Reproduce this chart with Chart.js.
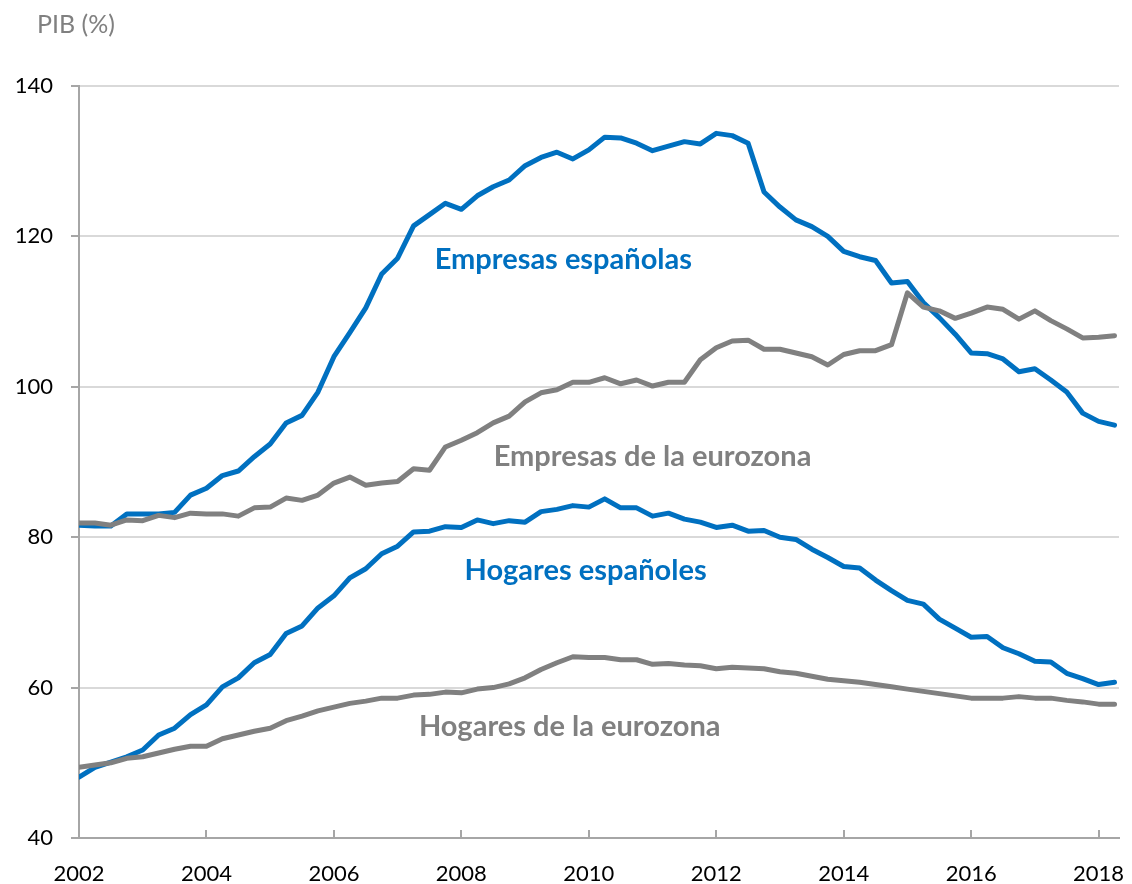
<!DOCTYPE html>
<html>
<head>
<meta charset="utf-8">
<script src="https://cdn.jsdelivr.net/npm/chart.js@4"></script>
<style>
  body { margin: 0; background: #fff; }
  #wrap { width: 1132px; height: 884px; }
</style>
</head>
<body>
<div id="wrap"><canvas id="deuda" width="1132" height="884"></canvas></div>
<script>
// trimestres 2002-T1 .. 2018-T2
const quarters = [];
for (let y = 2002; y <= 2018; y++) {
  for (let q = 1; q <= 4; q++) {
    if (quarters.length < 66) quarters.push(y + "-T" + q);
  }
}

const empresasEs = [
  81.6, 81.5, 81.5, 83.1, 83.1, 83.1, 83.3, 85.6, 86.5, 88.2,
  88.8, 90.7, 92.4, 95.2, 96.2, 99.3, 104.0, 107.2, 110.5, 115.0,
  117.1, 121.4, 122.9, 124.4, 123.6, 125.4, 126.6, 127.5, 129.4, 130.5,
  131.2, 130.3, 131.5, 133.2, 133.1, 132.4, 131.4, 132.0, 132.6, 132.3,
  133.7, 133.4, 132.4, 125.9, 123.9, 122.2, 121.3, 120.0, 118.0, 117.3,
  116.8, 113.8, 114.0, 111.2, 109.2, 107.0, 104.5, 104.4, 103.7, 102.0,
  102.4, 100.9, 99.3, 96.5, 95.4, 94.9
];
const empresasEuro = [
  81.9, 81.9, 81.6, 82.3, 82.2, 82.9, 82.6, 83.2, 83.1, 83.1,
  82.8, 83.9, 84.0, 85.2, 84.9, 85.6, 87.2, 88.0, 86.9, 87.2,
  87.4, 89.1, 88.9, 92.0, 92.9, 93.9, 95.2, 96.1, 98.0, 99.2,
  99.6, 100.6, 100.6, 101.2, 100.4, 100.9, 100.1, 100.6, 100.6, 103.6,
  105.2, 106.1, 106.2, 105.0, 105.0, 104.5, 104.0, 102.9, 104.3, 104.8,
  104.8, 105.6, 112.5, 110.6, 110.1, 109.1, 109.8, 110.6, 110.3, 109.0,
  110.1, 108.8, 107.7, 106.5, 106.6, 106.8
];
const hogaresEs = [
  48.1, 49.4, 50.1, 50.8, 51.7, 53.7, 54.6, 56.4, 57.7, 60.1,
  61.3, 63.3, 64.4, 67.2, 68.2, 70.6, 72.2, 74.6, 75.8, 77.8,
  78.8, 80.7, 80.8, 81.4, 81.3, 82.3, 81.8, 82.2, 82.0, 83.4,
  83.7, 84.2, 84.0, 85.1, 83.9, 83.9, 82.8, 83.2, 82.4, 82.0,
  81.3, 81.6, 80.8, 80.9, 80.0, 79.7, 78.4, 77.3, 76.1, 75.9,
  74.3, 72.9, 71.6, 71.1, 69.1, 67.9, 66.7, 66.8, 65.3, 64.5,
  63.5, 63.4, 61.9, 61.2, 60.4, 60.7
];
const hogaresEuro = [
  49.4, 49.7, 50.0, 50.6, 50.8, 51.3, 51.8, 52.2, 52.2, 53.2,
  53.7, 54.2, 54.6, 55.6, 56.2, 56.9, 57.4, 57.9, 58.2, 58.6,
  58.6, 59.0, 59.1, 59.4, 59.3, 59.8, 60.0, 60.5, 61.3, 62.4,
  63.3, 64.1, 64.0, 64.0, 63.7, 63.7, 63.1, 63.2, 63.0, 62.9,
  62.5, 62.7, 62.6, 62.5, 62.1, 61.9, 61.5, 61.1, 60.9, 60.7,
  60.4, 60.1, 59.8, 59.5, 59.2, 58.9, 58.6, 58.6, 58.6, 58.8,
  58.6, 58.6, 58.3, 58.1, 57.8, 57.8
];

const xTicks = [2002, 2004, 2006, 2008, 2010, 2012, 2014, 2016, 2018];
const yTicks = [40, 60, 80, 100, 120, 140];

const BLUE = "#0070c0";
const GREY = "#808080";

// etiquetas dentro del grafico (posicion en unidades de los ejes)
const etiquetas = [
  { text: "Empresas españolas", x: 2009.6, y: 116.9, color: BLUE },
  { text: "Empresas de la eurozona", x: 2011.0, y: 90.7, color: GREY },
  { text: "Hogares españoles", x: 2009.95, y: 75.6, color: BLUE },
  { text: "Hogares de la eurozona", x: 2009.7, y: 54.8, color: GREY }
];

const toXY = (vals) => vals.map((v, i) => {
  const [y, q] = quarters[i].split("-T");
  return { x: Number(y) + (Number(q) - 1) / 4, y: v };
});

const serie = (label, vals, color) => ({
  label: label,
  data: toXY(vals),
  borderColor: color,
  backgroundColor: color,
  borderWidth: 5,
  pointRadius: 0,
  tension: 0,
  borderJoinStyle: "round",
  borderCapStyle: "round",
  fill: false
});

const extras = {
  id: "extras",
  afterDraw(chart) {
    const ctx = chart.ctx;
    const xs = chart.scales.x;
    const ys = chart.scales.y;
    ctx.save();
    // marcas del eje x hacia dentro
    ctx.strokeStyle = "#a6a6a6";
    ctx.lineWidth = 2;
    xTicks.forEach((t) => {
      const px = Math.round(xs.getPixelForValue(t));
      ctx.beginPath();
      ctx.moveTo(px, ys.bottom);
      ctx.lineTo(px, ys.bottom - 8);
      ctx.stroke();
    });
    // titulo del eje
    ctx.fillStyle = "#808080";
    ctx.font = "25px Lato";
    ctx.textBaseline = "middle";
    ctx.textAlign = "left";
    ctx.fillText("PIB (%)", 37, 25);
    // etiquetas de las series
    ctx.font = "bold 29px Lato";
    ctx.textAlign = "center";
    etiquetas.forEach((e) => {
      ctx.fillStyle = e.color;
      ctx.fillText(e.text, xs.getPixelForValue(e.x), ys.getPixelForValue(e.y));
    });
    ctx.restore();
  }
};

const makeChart = () => {
  const ctx = document.getElementById("deuda").getContext("2d");
  new Chart(ctx, {
    type: "line",
    data: {
      datasets: [
        serie("Empresas de la eurozona", empresasEuro, GREY),
        serie("Hogares de la eurozona", hogaresEuro, GREY),
        serie("Empresas españolas", empresasEs, BLUE),
        serie("Hogares españoles", hogaresEs, BLUE)
      ]
    },
    options: {
      responsive: false,
      animation: false,
      devicePixelRatio: 1,
      layout: { padding: { top: 86, right: 13, left: 0, bottom: 0 } },
      plugins: {
        legend: { display: false },
        tooltip: { enabled: false },
        title: { display: false }
      },
      scales: {
        x: {
          type: "linear",
          min: 2002,
          max: 2018.32,
          afterFit: (scale) => {
            scale.height = 46;
            scale.paddingLeft = 0;
            scale.paddingRight = 0;
          },
          afterBuildTicks: (scale) => { scale.ticks = xTicks.map((v) => ({ value: v })); },
          grid: { display: false, drawTicks: false },
          border: { display: true, color: "#a6a6a6", width: 2 },
          ticks: {
            color: "#000",
            font: { family: "Lato", size: 22 },
            padding: 23,
            maxRotation: 0,
            callback: (v) => String(v)
          }
        },
        y: {
          min: 40,
          max: 140,
          afterFit: (scale) => { scale.width = 79; },
          afterBuildTicks: (scale) => { scale.ticks = yTicks.map((v) => ({ value: v })); },
          grid: {
            color: "#d9d9d9",
            lineWidth: 2,
            drawTicks: true,
            tickLength: 8,
            tickColor: "#a6a6a6"
          },
          border: { display: true, color: "#a6a6a6", width: 2 },
          ticks: {
            color: "#000",
            font: { family: "Lato", size: 22 },
            padding: 18,
            callback: (v) => String(v)
          }
        }
      }
    },
    plugins: [extras]
  });
};

Promise.all([
  document.fonts.load("bold 29px Lato"),
  document.fonts.load("22px Lato")
]).then(makeChart, makeChart);
</script>
</body>
</html>
